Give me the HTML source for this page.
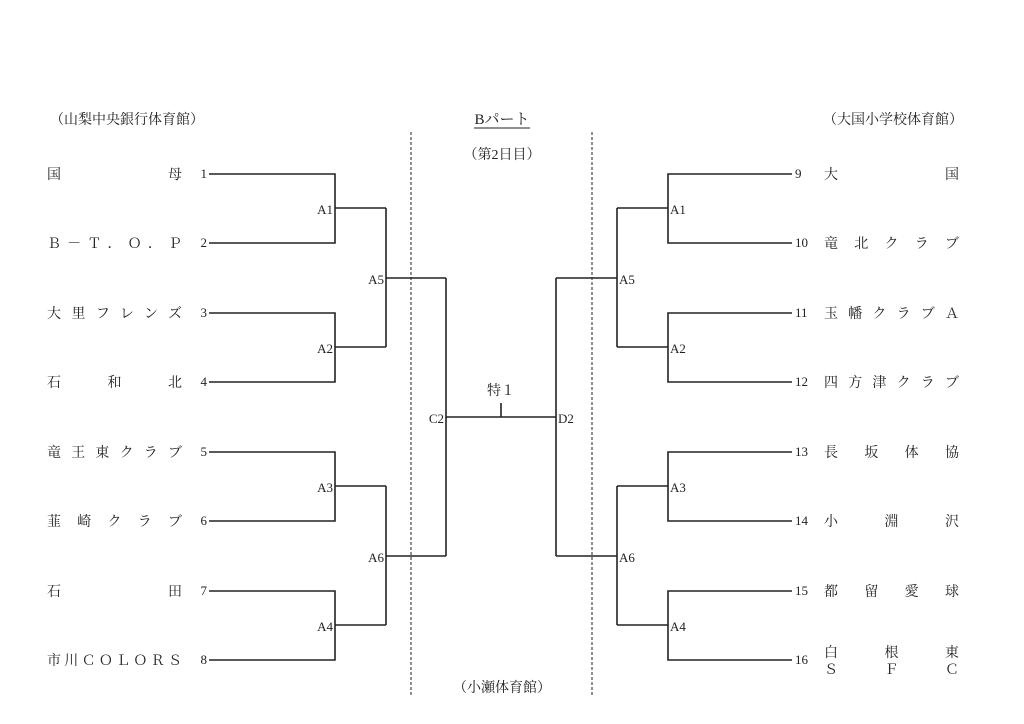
<!DOCTYPE html>
<html><head><meta charset="utf-8"><style>
html,body{margin:0;padding:0;background:#fff;}
svg{display:block;}
text{font-family:"Liberation Serif","Noto Serif CJK SC",serif;font-size:14px;fill:#222;}
.n{font-size:13px;}
</style></head><body>
<svg width="1024" height="724" viewBox="0 0 1024 724" xmlns="http://www.w3.org/2000/svg">
<g stroke="#222" stroke-width="1.6" fill="none">
<path d="M209 174H335V243H209M335 208H386"/>
<path d="M209 313H335V382H209M335 347H386"/>
<path d="M209 452H335V521H209M335 486H386"/>
<path d="M209 591H335V660H209M335 625H386"/>
<path d="M386 208V347M386 278H446"/>
<path d="M386 486V625M386 556H446"/>
<path d="M446 278V556M446 417H556"/>
<path d="M501 403V417"/>
<path d="M792 174H668V243H792M668 208H617"/>
<path d="M792 313H668V382H792M668 347H617"/>
<path d="M792 452H668V521H792M668 486H617"/>
<path d="M792 591H668V660H792M668 625H617"/>
<path d="M617 208V347M617 278H556"/>
<path d="M617 486V625M617 556H556"/>
<path d="M556 278V556"/>
</g>
<g stroke="#222" stroke-width="1" stroke-dasharray="3,2">
<path d="M411 132V695M592 132V695"/>
</g>
<text x="50" y="124">（山梨中央銀行体育館）</text>
<text x="823" y="124">（大国小学校体育館）</text>
<text x="502" y="124" text-anchor="middle" style="font-size:15px">Bパート</text>
<path d="M474 128H530" stroke="#222" stroke-width="1"/>
<text x="502" y="159" text-anchor="middle">（第2日目）</text>
<text x="502" y="692" text-anchor="middle">（小瀬体育館）</text>
<text x="501" y="395" text-anchor="middle">特１</text>
<g>
<text x="47" y="179" textLength="135" lengthAdjust="spacing">国母</text>
<text x="47" y="248" textLength="135" lengthAdjust="spacing">Ｂ－Ｔ．Ｏ．Ｐ</text>
<text x="47" y="318" textLength="135" lengthAdjust="spacing">大里フレンズ</text>
<text x="47" y="387" textLength="135" lengthAdjust="spacing">石和北</text>
<text x="47" y="457" textLength="135" lengthAdjust="spacing">竜王東クラブ</text>
<text x="47" y="526" textLength="135" lengthAdjust="spacing">韮崎クラブ</text>
<text x="47" y="596" textLength="135" lengthAdjust="spacing">石田</text>
<text x="47" y="665" textLength="135" lengthAdjust="spacing">市川ＣＯＬＯＲＳ</text>
</g>
<g text-anchor="end">
<text class="n" x="207" y="178">1</text><text class="n" x="207" y="247">2</text>
<text class="n" x="207" y="317">3</text><text class="n" x="207" y="386">4</text>
<text class="n" x="207" y="456">5</text><text class="n" x="207" y="525">6</text>
<text class="n" x="207" y="595">7</text><text class="n" x="207" y="664">8</text>
</g>
<g>
<text class="n" x="795" y="178">9</text><text class="n" x="795" y="247">10</text>
<text class="n" x="795" y="317">11</text><text class="n" x="795" y="386">12</text>
<text class="n" x="795" y="456">13</text><text class="n" x="795" y="525">14</text>
<text class="n" x="795" y="595">15</text><text class="n" x="795" y="664">16</text>
</g>
<g>
<text x="824" y="179" textLength="135" lengthAdjust="spacing">大国</text>
<text x="824" y="248" textLength="135" lengthAdjust="spacing">竜北クラブ</text>
<text x="824" y="318" textLength="135" lengthAdjust="spacing">玉幡クラブＡ</text>
<text x="824" y="387" textLength="135" lengthAdjust="spacing">四方津クラブ</text>
<text x="824" y="457" textLength="135" lengthAdjust="spacing">長坂体協</text>
<text x="824" y="526" textLength="135" lengthAdjust="spacing">小淵沢</text>
<text x="824" y="596" textLength="135" lengthAdjust="spacing">都留愛球</text>
<text x="824" y="657" textLength="135" lengthAdjust="spacing">白根東</text>
<text x="824" y="674" textLength="135" lengthAdjust="spacing">ＳＦＣ</text>
</g>
<g text-anchor="end">
<text class="n" x="333" y="214">A1</text><text class="n" x="333" y="353">A2</text>
<text class="n" x="333" y="492">A3</text><text class="n" x="333" y="631">A4</text>
<text class="n" x="384" y="284">A5</text><text class="n" x="384" y="562">A6</text>
<text class="n" x="444" y="423">C2</text>
</g>
<text class="n" x="670" y="214">A1</text><text class="n" x="670" y="353">A2</text>
<text class="n" x="670" y="492">A3</text><text class="n" x="670" y="631">A4</text>
<text class="n" x="619" y="284">A5</text><text class="n" x="619" y="562">A6</text>
<text class="n" x="558" y="423">D2</text>
</svg>
</body></html>
